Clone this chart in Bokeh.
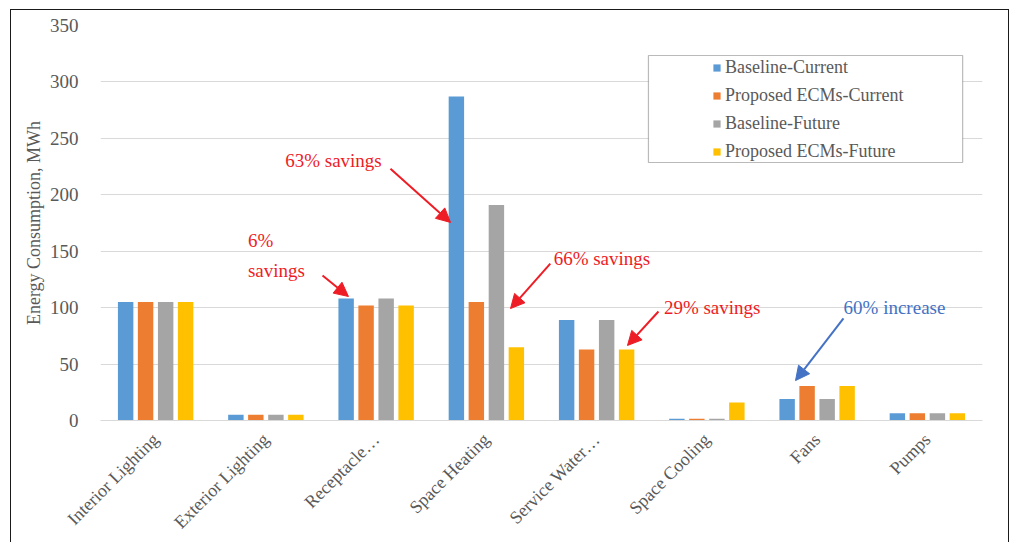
import math
from bokeh.plotting import figure
from bokeh.models import (FixedTicker, Legend, LegendItem, Arrow, NormalHead, Label,
                          BoxAnnotation, Range1d, InlineStyleSheet)
from bokeh.embed import file_html
from bokeh.resources import INLINE

categories = ["Interior Lighting", "Exterior Lighting", "Receptacle…", "Space Heating",
              "Service Water…", "Space Cooling", "Fans", "Pumps"]
series_names = ["Baseline-Current", "Proposed ECMs-Current", "Baseline-Future", "Proposed ECMs-Future"]
baseline_current = [105, 5, 108, 287, 89, 1.5, 19, 6.5]
proposed_current = [105, 5, 102, 105, 63, 1.5, 30.5, 6.5]
baseline_future = [105, 5, 108, 191, 89, 1.5, 19, 6.5]
proposed_future = [105, 5, 102, 65, 63, 16, 30.5, 6.5]
y_ticks = [0, 50, 100, 150, 200, 250, 300, 350]

colors = ["#5B9BD5", "#ED7D31", "#A5A5A5", "#FFC000"]
FONT = "Liberation Serif"
GREY = "#595959"

p = figure(width=1011, height=542, output_backend="svg", toolbar_location=None,
           x_range=Range1d(-0.5, len(categories) - 0.5), y_range=Range1d(0, 350),
           min_border_left=100, min_border_right=29, min_border_top=25, min_border_bottom=122)
p.outline_line_color = None
p.background_fill_color = "white"
p.border_fill_color = "white"
p.stylesheets = [InlineStyleSheet(css=(
    ":host { position: relative; }\n"
    ":host::after { content: ''; position: absolute; left: 10px; top: 9px; width: 999px; "
    "height: 560px; border: 1.5px solid #1a1a1a; pointer-events: none; z-index: 100; "
    "box-sizing: border-box; }"
))]

xs = list(range(len(categories)))
offsets = [-0.272, -0.091, 0.091, 0.272]
all_series = [baseline_current, proposed_current, baseline_future, proposed_future]
renderers = []
for vals, off, col in zip(all_series, offsets, colors):
    r = p.vbar(x=[x + off for x in xs], top=vals, width=0.14, bottom=0,
               fill_color=col, line_color=None)
    renderers.append(r)

# axes
p.xgrid.grid_line_color = None
p.ygrid.grid_line_color = "#d9d9d9"
p.ygrid.grid_line_width = 1
p.yaxis.ticker = FixedTicker(ticks=y_ticks)
p.yaxis.axis_line_color = None
p.yaxis.major_tick_line_color = None
p.yaxis.minor_tick_line_color = None
p.yaxis.major_label_text_font = FONT
p.yaxis.major_label_text_font_size = "19px"
p.yaxis.major_label_text_color = GREY
p.yaxis.major_label_standoff = 16
p.yaxis.axis_label = "Energy Consumption, MWh"
p.yaxis.axis_label_text_font = FONT
p.yaxis.axis_label_text_font_style = "normal"
p.yaxis.axis_label_text_font_size = "18px"
p.yaxis.axis_label_text_color = GREY
p.yaxis.axis_label_standoff = 3

p.xaxis.ticker = FixedTicker(ticks=xs)
p.xaxis.major_label_overrides = {i: c for i, c in enumerate(categories)}
p.xaxis.major_label_orientation = math.pi / 4
p.xaxis.axis_line_color = "#d9d9d9"
p.xaxis.major_tick_line_color = None
p.xaxis.minor_tick_line_color = None
p.xaxis.major_label_text_font = FONT
p.xaxis.major_label_text_font_size = "18px"
p.xaxis.major_label_text_color = GREY
p.xaxis.major_label_standoff = 10

# legend box
box = BoxAnnotation(left=4.47, right=7.32, top=323.4, bottom=228.6,
                    fill_color="white", fill_alpha=1.0, line_color="#1a1a1a", line_width=1.2,
                    level="overlay")
p.add_layout(box)
legend = Legend(items=[LegendItem(label=n, renderers=[r]) for n, r in zip(series_names, renderers)],
                location=(612, 258), orientation="vertical",
                glyph_width=9, glyph_height=9, label_standoff=4, label_height=20, spacing=7,
                padding=0, margin=0, border_line_color=None, background_fill_alpha=0,
                label_text_font=FONT, label_text_font_size="18px", label_text_color=GREY)
p.add_layout(legend)

# annotations
RED = "#EE1C25"
BLUE = "#4472C4"
arrows = [
    (2.13, 223, 2.675, 175.5, RED),
    (1.514, 128.5, 1.749, 109.9, RED),
    (3.58, 139, 3.219, 99.2, RED),
    (4.561, 96.6, 4.28, 66.5, RED),
    (6.239, 90.4, 5.804, 35.4, BLUE),
]
for xs0, ys0, xe, ye, c in arrows:
    p.add_layout(Arrow(x_start=xs0, y_start=ys0, x_end=xe, y_end=ye, line_color=c, line_width=2,
                       end=NormalHead(size=14, fill_color=c, line_color=c)))

labels = [
    ("63% savings", 1.175, 230, RED),
    ("6%", 0.837, 159.5, RED),
    ("savings", 0.837, 133, RED),
    ("66% savings", 3.61, 143.5, RED),
    ("29% savings", 4.61, 100, RED),
    ("60% increase", 6.24, 100, BLUE),
]
for t, x, y, c in labels:
    p.add_layout(Label(x=x, y=y, text=t, text_font=FONT, text_font_size="19px",
                       text_color=c, text_baseline="middle", text_align="left"))

open("out.html", "w").write(file_html(p, INLINE))
